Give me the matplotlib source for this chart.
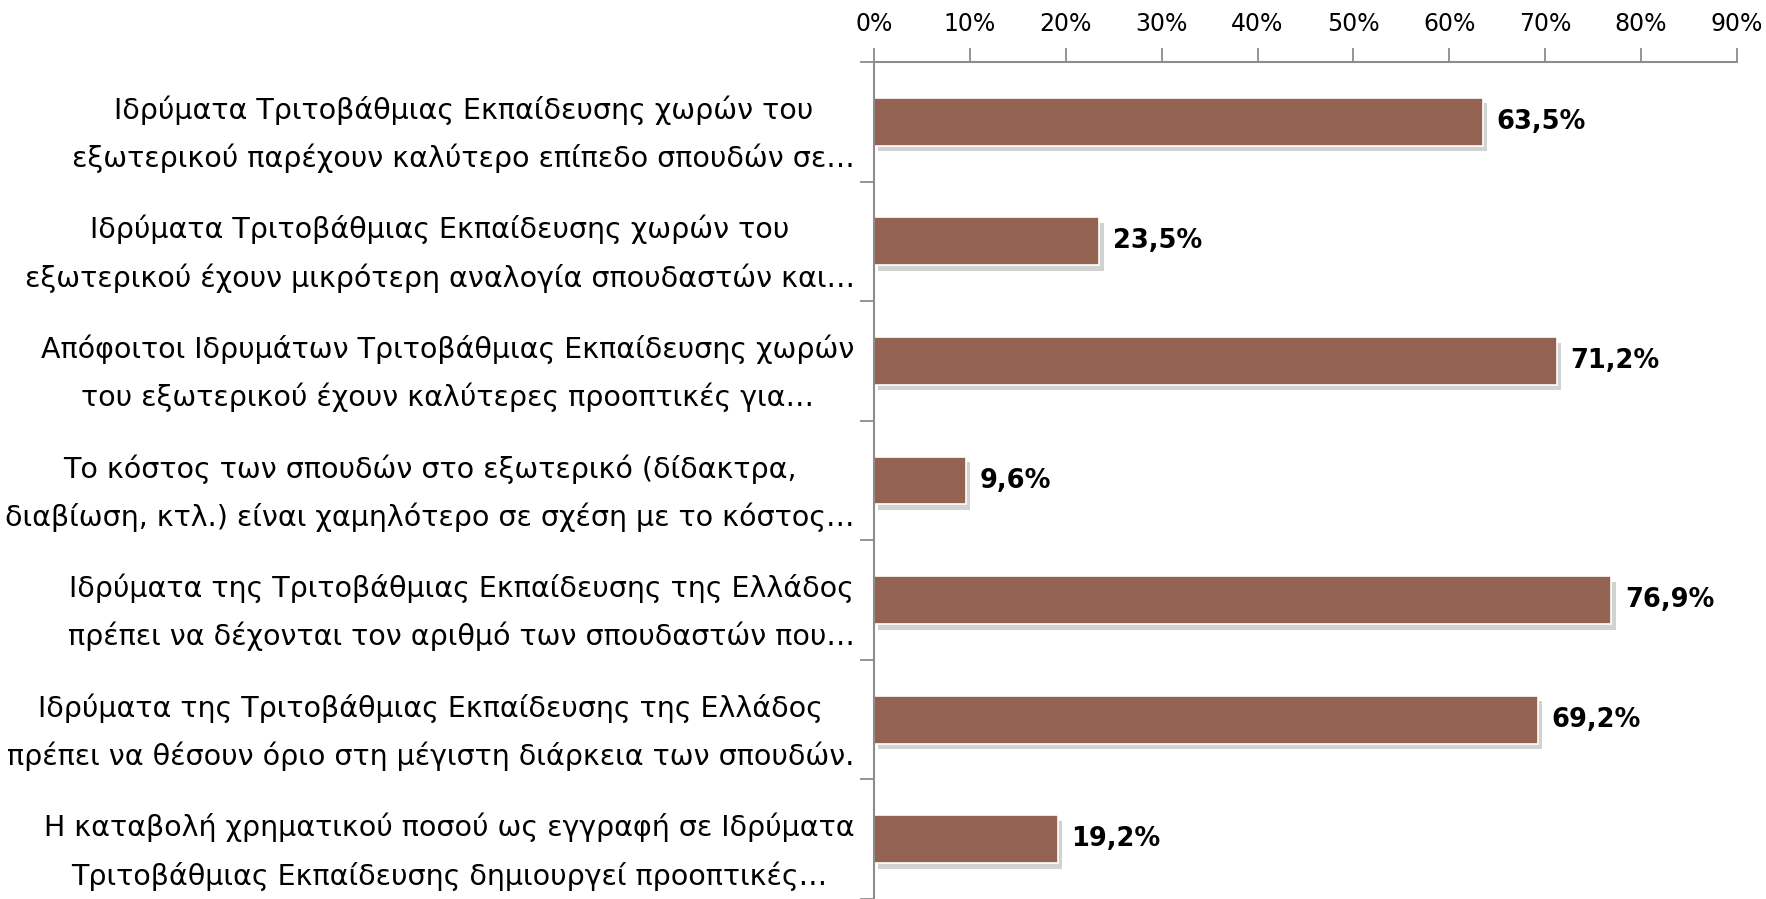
import matplotlib
matplotlib.use("Agg")
import matplotlib.pyplot as plt
import matplotlib.patheffects as pe
from matplotlib.ticker import FixedLocator, FuncFormatter

categories = [
    "Ιδρύματα Τριτοβάθμιας Εκπαίδευσης χωρών του\nεξωτερικού παρέχουν καλύτερο επίπεδο σπουδών σε…",
    "Ιδρύματα Τριτοβάθμιας Εκπαίδευσης χωρών του\nεξωτερικού έχουν μικρότερη αναλογία σπουδαστών και…",
    "Απόφοιτοι Ιδρυμάτων Τριτοβάθμιας Εκπαίδευσης χωρών\nτου εξωτερικού έχουν καλύτερες προοπτικές για…",
    "Το κόστος των σπουδών στο εξωτερικό (δίδακτρα,\nδιαβίωση, κτλ.) είναι χαμηλότερο σε σχέση με το κόστος…",
    "Ιδρύματα της Τριτοβάθμιας Εκπαίδευσης της Ελλάδος\nπρέπει να δέχονται τον αριθμό των σπουδαστών που…",
    "Ιδρύματα της Τριτοβάθμιας Εκπαίδευσης της Ελλάδος\nπρέπει να θέσουν όριο στη μέγιστη διάρκεια των σπουδών.",
    "Η καταβολή χρηματικού ποσού ως εγγραφή σε Ιδρύματα\nΤριτοβάθμιας Εκπαίδευσης δημιουργεί προοπτικές…",
]
values = [0.635, 0.235, 0.712, 0.096, 0.769, 0.692, 0.192]
value_labels = ["63,5%", "23,5%", "71,2%", "9,6%", "76,9%", "69,2%", "19,2%"]
xticks = [0.0, 0.1, 0.2, 0.3, 0.4, 0.5, 0.6, 0.7, 0.8, 0.9]

W, H = 1766, 899
fig = plt.figure(figsize=(W / 100, H / 100), dpi=100)
ax = fig.add_axes([874 / W, 0.0, (1737 - 874) / W, (899 - 62) / H])

bar_color = "#946250"
ys = list(range(len(categories)))
bars = ax.barh(ys, values, height=0.4, color=bar_color, edgecolor="white", linewidth=1.2)
for b in bars:
    b.set_path_effects([pe.SimplePatchShadow(offset=(3, -4), shadow_rgbFace="#808080", alpha=0.35),
                        pe.Normal()])

ax.set_ylim(6.48, -0.5)
ax.set_xlim(0, 0.9)

gray = "#8c8c8c"
for s in ["right", "bottom"]:
    ax.spines[s].set_visible(False)
ax.spines["top"].set_color(gray)
ax.spines["left"].set_color(gray)
ax.spines["top"].set_linewidth(1.5)
ax.spines["left"].set_linewidth(1.5)

ax.xaxis.tick_top()
ax.xaxis.set_major_locator(FixedLocator(xticks))
ax.xaxis.set_major_formatter(FuncFormatter(lambda v, p: f"{round(v * 100)}%"))
ax.tick_params(axis="x", direction="out", length=10, width=1.3, color=gray,
               labelsize=17, pad=9, labelcolor="black")

ax.set_yticks(ys)
ax.set_yticklabels(categories, fontsize=20.5, multialignment="center", linespacing=1.8)
ax.set_yticks([i + 0.5 for i in range(-1, len(categories))], minor=True)
ax.tick_params(axis="y", which="major", length=0, pad=14)
ax.tick_params(axis="y", which="minor", direction="out", length=10, width=1.3, color=gray)

for y, v, lab in zip(ys, values, value_labels):
    ax.text(v + 0.014, y, lab, va="center", ha="left", fontsize=18.5, fontweight="bold")

fig.savefig("out.png", dpi=100)
